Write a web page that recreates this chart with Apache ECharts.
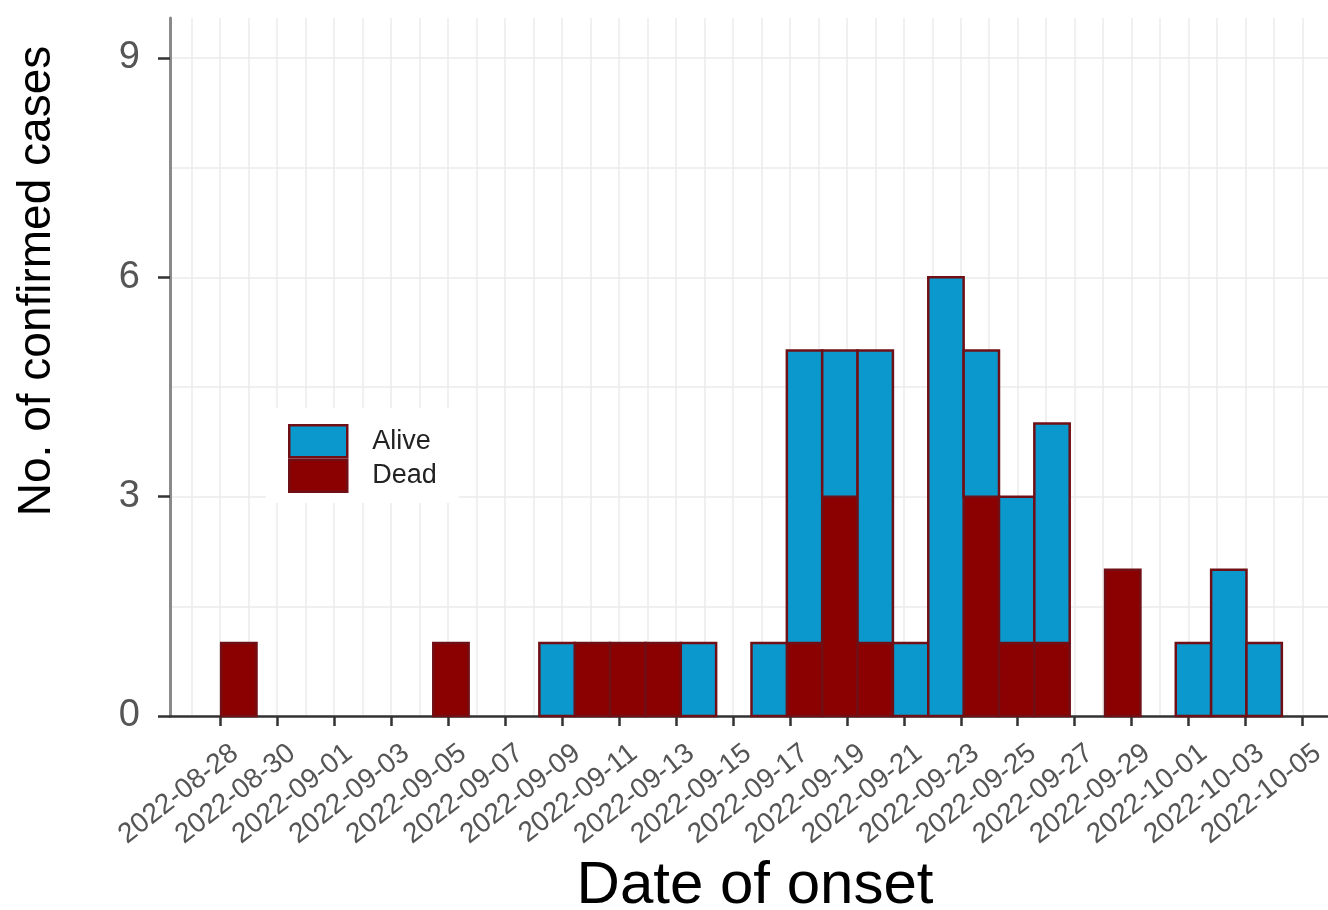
<!DOCTYPE html>
<html><head><meta charset="utf-8">
<script src="https://cdn.jsdelivr.net/npm/echarts@6/dist/echarts.min.js"></script>
<style>html,body{margin:0;padding:0;background:#fff}#c{width:1328px;height:910px}</style>
</head><body><div id="c"></div>
<script>
// ---- data ----
const ORIGIN = '2022-08-28';
const xTickLabels = ['2022-08-28','2022-08-30','2022-09-01','2022-09-03','2022-09-05','2022-09-07','2022-09-09','2022-09-11','2022-09-13','2022-09-15','2022-09-17','2022-09-19','2022-09-21','2022-09-23','2022-09-25','2022-09-27','2022-09-29','2022-10-01','2022-10-03','2022-10-05'];
const yTickLabels = [0, 3, 6, 9];
const seriesNames = ['Alive', 'Dead'];
// histogram bins (30 bins), first bin's left edge in days after ORIGIN, bin width in days
const binStart = 0.04;
const binWidth = 1.241;
const deadCounts  = [1,0,0,0,0,0,1,0,0,0,1,1,1,0,0,0,1,3,1,0,0,3,1,1,0,2,0,0,0,0];
const aliveCounts = [0,0,0,0,0,0,0,0,0,1,0,0,0,1,0,1,4,2,4,1,6,2,2,3,0,0,0,1,2,1];

// ---- helpers ----
const DAY = 86400000;
const LABEL_SHIFT = 0.53; // rotated labels sit slightly right of their tick (days)
const dayOf = d => (Date.parse(d) - Date.parse(ORIGIN)) / DAY;
const labelOf = v => { const t = new Date(Date.parse(ORIGIN) + Math.round(v) * DAY); return t.toISOString().slice(0, 10); };
const tickDays = xTickLabels.map(dayOf);
const labelDays = tickDays.map(d => d + LABEL_SHIFT);
const gridDays = []; for (let d = Math.ceil(tickDays[0] - 2); d <= tickDays[tickDays.length - 1] + 1; d++) gridDays.push(d);
const yGrid = []; for (let v = 0; v <= yTickLabels[yTickLabels.length - 1]; v += 1.5) yGrid.push(v);

const deadData = deadCounts.map((c, k) => [binStart + k * binWidth, binStart + (k + 1) * binWidth, 0, c]);
const aliveData = aliveCounts.map((c, k) => [binStart + k * binWidth, binStart + (k + 1) * binWidth, deadCounts[k], deadCounts[k] + c]);

const COL = { Alive: '#0B98CD', Dead: '#8B0000' };
const BORDER = '#701016';

function renderBin(params, api) {
  const x0 = api.value(0), x1 = api.value(1), y0 = api.value(2), y1 = api.value(3);
  if (!(y1 > y0)) return null;
  const p0 = api.coord([x0, y1]);
  const p1 = api.coord([x1, y0]);
  return { type: 'rect', shape: { x: p0[0], y: p0[1], width: p1[0] - p0[0], height: p1[1] - p0[1] },
    style: { fill: api.visual('color'), stroke: BORDER, lineWidth: 2.5 } };
}

const xMin = -1.755, xMax = 38.89, yMax = 9.546;
const chart = echarts.init(document.getElementById('c'), null, { renderer: 'canvas' });
chart.setOption({
  animation: false,
  backgroundColor: '#fff',
  textStyle: { fontFamily: 'Liberation Sans, Arial, sans-serif' },
  grid: { left: 170, right: 0, top: 18, bottom: 194, containLabel: false, outerBoundsMode: 'none' },
  xAxis: [
    { type: 'value', min: xMin, max: xMax, position: 'bottom',
      axisLine: { show: false }, axisLabel: { show: false },
      axisTick: { show: false, customValues: gridDays },
      splitLine: { show: true, lineStyle: { color: '#EBEBEB', width: 1.5 } } },
    { type: 'value', min: xMin, max: xMax, position: 'bottom',
      axisLine: { show: true, onZero: false, lineStyle: { color: '#333', width: 2.5 } },
      axisTick: { show: true, length: 10, customValues: tickDays, lineStyle: { color: '#333', width: 2.5 } },
      axisLabel: { show: true, customValues: labelDays, rotate: 38, margin: 34, fontSize: 28, color: '#555',
        formatter: v => labelOf(v - LABEL_SHIFT) },
      splitLine: { show: false },
      name: 'Date of onset', nameLocation: 'middle', nameGap: 140,
      nameTextStyle: { fontSize: 60, color: '#000', padding: [0, 0, 0, 12] } }
  ],
  yAxis: [
    { type: 'value', min: 0, max: yMax, position: 'left',
      axisLine: { show: false, onZero: false }, axisLabel: { show: false },
      axisTick: { show: false, customValues: yGrid },
      splitLine: { show: true, lineStyle: { color: '#EBEBEB', width: 1.5 } } },
    { type: 'value', min: 0, max: yMax, position: 'left',
      axisLine: { show: true, onZero: false, lineStyle: { color: '#8a8a8a', width: 3 } },
      axisTick: { show: true, length: 12, customValues: yTickLabels, lineStyle: { color: '#333', width: 2.5 } },
      axisLabel: { show: true, customValues: yTickLabels, margin: 30, fontSize: 38, color: '#555' },
      splitLine: { show: false },
      name: 'No. of confirmed cases', nameLocation: 'middle', nameGap: 110, nameRotate: 90,
      nameTextStyle: { fontSize: 46, color: '#000', padding: [0, 0, 0, 172] } }
  ],
  legend: {
    orient: 'vertical', left: 266, top: 408, backgroundColor: '#fff',
    padding: [16, 22, 10, 22], itemWidth: 58, itemHeight: 32, itemGap: 0, icon: 'rect',
    textStyle: { fontSize: 27, color: '#222', padding: [0, 0, 0, 20] },
    data: [
      { name: 'Alive', itemStyle: { color: COL.Alive, borderColor: BORDER, borderWidth: 2.5 } },
      { name: 'Dead', itemStyle: { color: COL.Dead, borderColor: BORDER, borderWidth: 2.5 } }
    ]
  },
  series: [
    { name: 'Dead', type: 'custom', xAxisIndex: 0, yAxisIndex: 0, renderItem: renderBin,
      itemStyle: { color: COL.Dead, borderColor: BORDER, borderWidth: 2.5 },
      encode: { x: [0, 1], y: [2, 3] }, data: deadData },
    { name: 'Alive', type: 'custom', xAxisIndex: 0, yAxisIndex: 0, renderItem: renderBin,
      itemStyle: { color: COL.Alive, borderColor: BORDER, borderWidth: 2.5 },
      encode: { x: [0, 1], y: [2, 3] }, data: aliveData }
  ]
});
</script></body></html>
